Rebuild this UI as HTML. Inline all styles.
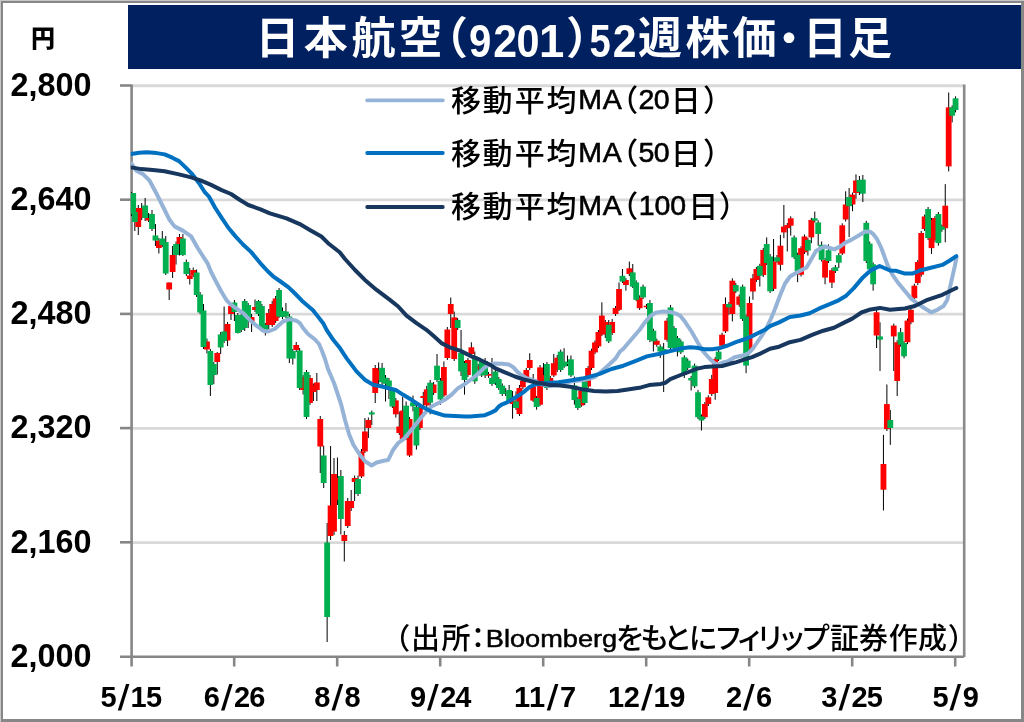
<!DOCTYPE html><html><head><meta charset="utf-8"><title>日本航空（9201）52週株価・日足</title><style>
html,body{margin:0;padding:0;background:#fff;}body{width:1024px;height:722px;overflow:hidden;position:relative;}
svg{position:absolute;left:0;top:0;display:block;will-change:transform;}
</style></head><body>
<svg width="1024" height="722" viewBox="0 0 1024 722">
<rect x="0" y="0" width="1024" height="722" fill="#fff"/>
<rect x="0" y="0" width="1024" height="1" fill="#c6c6c6"/><rect x="0" y="0" width="1" height="722" fill="#c6c6c6"/>
<rect x="1" y="1" width="1023" height="2" fill="#878787"/><rect x="1" y="1" width="2" height="721" fill="#878787"/>
<rect x="1021" y="1" width="3" height="721" fill="#878787"/><rect x="1" y="719" width="1023" height="3" fill="#878787"/>
<rect x="128" y="5" width="893" height="64" fill="#002060"/>
<line x1="131" y1="85.75" x2="963.5" y2="85.75" stroke="#d9d9d9" stroke-width="2.8"/>
<line x1="131" y1="199.95" x2="963.5" y2="199.95" stroke="#d9d9d9" stroke-width="2.8"/>
<line x1="131" y1="314.15" x2="963.5" y2="314.15" stroke="#d9d9d9" stroke-width="2.8"/>
<line x1="131" y1="428.35" x2="963.5" y2="428.35" stroke="#d9d9d9" stroke-width="2.8"/>
<line x1="131" y1="542.55" x2="963.5" y2="542.55" stroke="#d9d9d9" stroke-width="2.8"/>
<line x1="964.2" y1="84.5" x2="964.2" y2="657" stroke="#8a8a8a" stroke-width="2.6"/>
<line x1="131.6" y1="84.5" x2="131.6" y2="666.5" stroke="#868686" stroke-width="2.6"/>
<line x1="120" y1="656.7" x2="964" y2="656.7" stroke="#868686" stroke-width="2.6"/>
<line x1="120" y1="85.50" x2="131" y2="85.50" stroke="#868686" stroke-width="2.6"/>
<line x1="120" y1="199.70" x2="131" y2="199.70" stroke="#868686" stroke-width="2.6"/>
<line x1="120" y1="313.90" x2="131" y2="313.90" stroke="#868686" stroke-width="2.6"/>
<line x1="120" y1="428.10" x2="131" y2="428.10" stroke="#868686" stroke-width="2.6"/>
<line x1="120" y1="542.30" x2="131" y2="542.30" stroke="#868686" stroke-width="2.6"/>
<line x1="234.20" y1="656" x2="234.20" y2="666.5" stroke="#868686" stroke-width="2.6"/>
<line x1="337.20" y1="656" x2="337.20" y2="666.5" stroke="#868686" stroke-width="2.6"/>
<line x1="440.20" y1="656" x2="440.20" y2="666.5" stroke="#868686" stroke-width="2.6"/>
<line x1="543.20" y1="656" x2="543.20" y2="666.5" stroke="#868686" stroke-width="2.6"/>
<line x1="646.20" y1="656" x2="646.20" y2="666.5" stroke="#868686" stroke-width="2.6"/>
<line x1="749.20" y1="656" x2="749.20" y2="666.5" stroke="#868686" stroke-width="2.6"/>
<line x1="852.20" y1="656" x2="852.20" y2="666.5" stroke="#868686" stroke-width="2.6"/>
<line x1="955.20" y1="656" x2="955.20" y2="666.5" stroke="#868686" stroke-width="2.6"/>
<defs><clipPath id="pc"><rect x="130.6" y="84" width="833" height="573"/></clipPath></defs>
<g clip-path="url(#pc)">
<g stroke="#000" stroke-width="1">
<line x1="131.40" y1="192" x2="131.40" y2="216"/>
<line x1="134.83" y1="210" x2="134.83" y2="231"/>
<line x1="138.27" y1="205" x2="138.27" y2="235"/>
<line x1="141.70" y1="203" x2="141.70" y2="220"/>
<line x1="145.14" y1="198" x2="145.14" y2="221"/>
<line x1="148.57" y1="213" x2="148.57" y2="222"/>
<line x1="152.00" y1="210" x2="152.00" y2="231"/>
<line x1="155.44" y1="224" x2="155.44" y2="246"/>
<line x1="158.87" y1="238" x2="158.87" y2="253.5"/>
<line x1="162.31" y1="231" x2="162.31" y2="247"/>
<line x1="165.74" y1="236" x2="165.74" y2="275"/>
<line x1="169.17" y1="282.5" x2="169.17" y2="300"/>
<line x1="172.61" y1="246" x2="172.61" y2="278"/>
<line x1="176.04" y1="241.5" x2="176.04" y2="264.5"/>
<line x1="179.48" y1="234" x2="179.48" y2="255.5"/>
<line x1="182.91" y1="234" x2="182.91" y2="256"/>
<line x1="186.34" y1="259.5" x2="186.34" y2="276"/>
<line x1="189.78" y1="268" x2="189.78" y2="284.5"/>
<line x1="193.21" y1="267.5" x2="193.21" y2="277"/>
<line x1="196.65" y1="269.5" x2="196.65" y2="297"/>
<line x1="200.08" y1="292" x2="200.08" y2="314"/>
<line x1="203.51" y1="304" x2="203.51" y2="349"/>
<line x1="206.95" y1="338.5" x2="206.95" y2="353.5"/>
<line x1="210.38" y1="349" x2="210.38" y2="396"/>
<line x1="213.82" y1="362" x2="213.82" y2="384"/>
<line x1="217.25" y1="352" x2="217.25" y2="374.5"/>
<line x1="220.68" y1="332" x2="220.68" y2="354"/>
<line x1="224.12" y1="306.5" x2="224.12" y2="343"/>
<line x1="227.55" y1="322" x2="227.55" y2="346"/>
<line x1="230.99" y1="304" x2="230.99" y2="320"/>
<line x1="234.42" y1="300" x2="234.42" y2="321"/>
<line x1="237.85" y1="313" x2="237.85" y2="333.5"/>
<line x1="241.29" y1="313" x2="241.29" y2="332"/>
<line x1="244.72" y1="299" x2="244.72" y2="331"/>
<line x1="248.16" y1="303" x2="248.16" y2="328"/>
<line x1="251.59" y1="314" x2="251.59" y2="332"/>
<line x1="255.02" y1="299.5" x2="255.02" y2="312"/>
<line x1="258.46" y1="300" x2="258.46" y2="316"/>
<line x1="261.89" y1="304" x2="261.89" y2="332"/>
<line x1="265.33" y1="323" x2="265.33" y2="335.5"/>
<line x1="268.76" y1="309" x2="268.76" y2="329"/>
<line x1="272.19" y1="301" x2="272.19" y2="327"/>
<line x1="275.63" y1="296" x2="275.63" y2="323"/>
<line x1="279.06" y1="288" x2="279.06" y2="318"/>
<line x1="282.50" y1="307.5" x2="282.50" y2="319"/>
<line x1="285.93" y1="303" x2="285.93" y2="318"/>
<line x1="289.36" y1="314" x2="289.36" y2="363"/>
<line x1="292.80" y1="349" x2="292.80" y2="364.5"/>
<line x1="296.23" y1="342" x2="296.23" y2="352"/>
<line x1="299.67" y1="348" x2="299.67" y2="390"/>
<line x1="303.10" y1="375" x2="303.10" y2="394.5"/>
<line x1="306.53" y1="370" x2="306.53" y2="419"/>
<line x1="309.97" y1="375" x2="309.97" y2="405"/>
<line x1="313.40" y1="383.5" x2="313.40" y2="401"/>
<line x1="316.84" y1="373" x2="316.84" y2="401"/>
<line x1="320.27" y1="416" x2="320.27" y2="473"/>
<line x1="323.70" y1="445.7" x2="323.70" y2="488"/>
<line x1="327.14" y1="523" x2="327.14" y2="642"/>
<line x1="330.57" y1="446" x2="330.57" y2="540"/>
<line x1="334.01" y1="458" x2="334.01" y2="535"/>
<line x1="337.44" y1="457.5" x2="337.44" y2="505"/>
<line x1="340.87" y1="470" x2="340.87" y2="534.5"/>
<line x1="344.31" y1="531" x2="344.31" y2="561.5"/>
<line x1="347.74" y1="498" x2="347.74" y2="528"/>
<line x1="351.18" y1="490" x2="351.18" y2="511"/>
<line x1="354.61" y1="475.6" x2="354.61" y2="501"/>
<line x1="358.04" y1="475.6" x2="358.04" y2="496"/>
<line x1="361.48" y1="449" x2="361.48" y2="478"/>
<line x1="364.91" y1="418" x2="364.91" y2="453"/>
<line x1="368.35" y1="417.5" x2="368.35" y2="438"/>
<line x1="371.78" y1="410.6" x2="371.78" y2="425"/>
<line x1="375.21" y1="365" x2="375.21" y2="403"/>
<line x1="378.65" y1="362.5" x2="378.65" y2="387"/>
<line x1="382.08" y1="363" x2="382.08" y2="385"/>
<line x1="385.52" y1="375" x2="385.52" y2="401.5"/>
<line x1="388.95" y1="378" x2="388.95" y2="399"/>
<line x1="392.38" y1="388" x2="392.38" y2="408"/>
<line x1="395.82" y1="398" x2="395.82" y2="417.6"/>
<line x1="399.25" y1="411.5" x2="399.25" y2="435"/>
<line x1="402.69" y1="397" x2="402.69" y2="442"/>
<line x1="406.12" y1="401.5" x2="406.12" y2="440"/>
<line x1="409.55" y1="417" x2="409.55" y2="457"/>
<line x1="412.99" y1="395.6" x2="412.99" y2="411.4"/>
<line x1="416.42" y1="405" x2="416.42" y2="449.6"/>
<line x1="419.86" y1="406" x2="419.86" y2="430"/>
<line x1="423.29" y1="392" x2="423.29" y2="407"/>
<line x1="426.72" y1="386" x2="426.72" y2="407"/>
<line x1="430.16" y1="380" x2="430.16" y2="414.3"/>
<line x1="433.59" y1="382" x2="433.59" y2="395"/>
<line x1="437.03" y1="354" x2="437.03" y2="382"/>
<line x1="440.46" y1="378" x2="440.46" y2="404.7"/>
<line x1="443.89" y1="361.5" x2="443.89" y2="397"/>
<line x1="447.33" y1="327" x2="447.33" y2="360"/>
<line x1="450.76" y1="297.5" x2="450.76" y2="328"/>
<line x1="454.20" y1="311.6" x2="454.20" y2="361"/>
<line x1="457.63" y1="318" x2="457.63" y2="330"/>
<line x1="461.06" y1="330" x2="461.06" y2="376"/>
<line x1="464.50" y1="361" x2="464.50" y2="394.6"/>
<line x1="467.93" y1="358" x2="467.93" y2="377"/>
<line x1="471.37" y1="342.3" x2="471.37" y2="356"/>
<line x1="474.80" y1="351.5" x2="474.80" y2="383.8"/>
<line x1="478.23" y1="364" x2="478.23" y2="371"/>
<line x1="481.67" y1="359" x2="481.67" y2="377"/>
<line x1="485.10" y1="358" x2="485.10" y2="378"/>
<line x1="488.54" y1="372" x2="488.54" y2="378"/>
<line x1="491.97" y1="358" x2="491.97" y2="386"/>
<line x1="495.40" y1="369" x2="495.40" y2="385"/>
<line x1="498.84" y1="377" x2="498.84" y2="390"/>
<line x1="502.27" y1="383.5" x2="502.27" y2="396"/>
<line x1="505.71" y1="388" x2="505.71" y2="396"/>
<line x1="509.14" y1="385" x2="509.14" y2="403"/>
<line x1="512.57" y1="391" x2="512.57" y2="418.7"/>
<line x1="516.01" y1="391.4" x2="516.01" y2="410"/>
<line x1="519.44" y1="385" x2="519.44" y2="416"/>
<line x1="522.88" y1="378" x2="522.88" y2="389"/>
<line x1="526.31" y1="368" x2="526.31" y2="382"/>
<line x1="529.74" y1="353.2" x2="529.74" y2="370"/>
<line x1="533.18" y1="374" x2="533.18" y2="402"/>
<line x1="536.61" y1="396" x2="536.61" y2="409.7"/>
<line x1="540.05" y1="365" x2="540.05" y2="406"/>
<line x1="543.48" y1="363" x2="543.48" y2="387"/>
<line x1="546.91" y1="362" x2="546.91" y2="390"/>
<line x1="550.35" y1="376" x2="550.35" y2="383"/>
<line x1="553.78" y1="354" x2="553.78" y2="377"/>
<line x1="557.22" y1="355" x2="557.22" y2="372"/>
<line x1="560.65" y1="349.6" x2="560.65" y2="372"/>
<line x1="564.08" y1="348.2" x2="564.08" y2="368"/>
<line x1="567.52" y1="355.5" x2="567.52" y2="366"/>
<line x1="570.95" y1="355.5" x2="570.95" y2="377"/>
<line x1="574.39" y1="376.5" x2="574.39" y2="404.7"/>
<line x1="577.82" y1="397" x2="577.82" y2="410"/>
<line x1="581.25" y1="388" x2="581.25" y2="407"/>
<line x1="584.69" y1="379.5" x2="584.69" y2="405"/>
<line x1="588.12" y1="366" x2="588.12" y2="388"/>
<line x1="591.56" y1="348.7" x2="591.56" y2="370"/>
<line x1="594.99" y1="340.4" x2="594.99" y2="354"/>
<line x1="598.42" y1="330" x2="598.42" y2="348"/>
<line x1="601.86" y1="302.3" x2="601.86" y2="336"/>
<line x1="605.29" y1="320" x2="605.29" y2="338"/>
<line x1="608.73" y1="320" x2="608.73" y2="343"/>
<line x1="612.16" y1="319" x2="612.16" y2="335"/>
<line x1="615.59" y1="306" x2="615.59" y2="316"/>
<line x1="619.03" y1="282.4" x2="619.03" y2="311"/>
<line x1="622.46" y1="269" x2="622.46" y2="283"/>
<line x1="625.90" y1="278" x2="625.90" y2="290.7"/>
<line x1="629.33" y1="261.6" x2="629.33" y2="276"/>
<line x1="632.76" y1="264" x2="632.76" y2="288"/>
<line x1="636.20" y1="280.4" x2="636.20" y2="301"/>
<line x1="639.63" y1="295.4" x2="639.63" y2="310"/>
<line x1="643.07" y1="284.6" x2="643.07" y2="299"/>
<line x1="646.50" y1="304" x2="646.50" y2="309"/>
<line x1="649.93" y1="300" x2="649.93" y2="342"/>
<line x1="653.37" y1="328.7" x2="653.37" y2="351.5"/>
<line x1="656.80" y1="338.7" x2="656.80" y2="346.8"/>
<line x1="660.24" y1="344.5" x2="660.24" y2="358"/>
<line x1="663.67" y1="343" x2="663.67" y2="392"/>
<line x1="667.10" y1="318" x2="667.10" y2="341.8"/>
<line x1="670.54" y1="305" x2="670.54" y2="350"/>
<line x1="673.97" y1="326" x2="673.97" y2="350"/>
<line x1="677.41" y1="336" x2="677.41" y2="356.4"/>
<line x1="680.84" y1="339.5" x2="680.84" y2="354"/>
<line x1="684.27" y1="355.3" x2="684.27" y2="378"/>
<line x1="687.71" y1="358.6" x2="687.71" y2="370"/>
<line x1="691.14" y1="376" x2="691.14" y2="390.5"/>
<line x1="694.58" y1="363.6" x2="694.58" y2="388"/>
<line x1="698.01" y1="390" x2="698.01" y2="419"/>
<line x1="701.44" y1="414.4" x2="701.44" y2="430.5"/>
<line x1="704.88" y1="402" x2="704.88" y2="419"/>
<line x1="708.31" y1="395.3" x2="708.31" y2="406"/>
<line x1="711.75" y1="374.9" x2="711.75" y2="396"/>
<line x1="715.18" y1="357" x2="715.18" y2="399.8"/>
<line x1="718.61" y1="349.6" x2="718.61" y2="361"/>
<line x1="722.05" y1="332.7" x2="722.05" y2="347"/>
<line x1="725.48" y1="297.4" x2="725.48" y2="333"/>
<line x1="728.92" y1="302" x2="728.92" y2="314.8"/>
<line x1="732.35" y1="278.3" x2="732.35" y2="321.4"/>
<line x1="735.78" y1="283" x2="735.78" y2="293"/>
<line x1="739.22" y1="294.5" x2="739.22" y2="306.8"/>
<line x1="742.65" y1="284.6" x2="742.65" y2="321"/>
<line x1="746.09" y1="314.5" x2="746.09" y2="373.2"/>
<line x1="749.52" y1="296.5" x2="749.52" y2="353"/>
<line x1="752.95" y1="274" x2="752.95" y2="299.8"/>
<line x1="756.39" y1="267" x2="756.39" y2="282"/>
<line x1="759.82" y1="263.8" x2="759.82" y2="286.6"/>
<line x1="763.26" y1="248" x2="763.26" y2="277"/>
<line x1="766.69" y1="237.4" x2="766.69" y2="265"/>
<line x1="770.12" y1="254" x2="770.12" y2="293"/>
<line x1="773.56" y1="239" x2="773.56" y2="291"/>
<line x1="776.99" y1="255" x2="776.99" y2="263"/>
<line x1="780.43" y1="234.9" x2="780.43" y2="270.6"/>
<line x1="783.86" y1="205" x2="783.86" y2="238.2"/>
<line x1="787.29" y1="223" x2="787.29" y2="251.5"/>
<line x1="790.73" y1="216.3" x2="790.73" y2="235.7"/>
<line x1="794.16" y1="235.4" x2="794.16" y2="259"/>
<line x1="797.60" y1="252.8" x2="797.60" y2="282.2"/>
<line x1="801.03" y1="246.2" x2="801.03" y2="276.5"/>
<line x1="804.46" y1="234.5" x2="804.46" y2="254"/>
<line x1="807.90" y1="237.9" x2="807.90" y2="255.6"/>
<line x1="811.33" y1="217.9" x2="811.33" y2="243.2"/>
<line x1="814.77" y1="211.6" x2="814.77" y2="222.5"/>
<line x1="818.20" y1="220.4" x2="818.20" y2="245.7"/>
<line x1="821.63" y1="241.5" x2="821.63" y2="261.5"/>
<line x1="825.07" y1="258" x2="825.07" y2="284.3"/>
<line x1="828.50" y1="244.4" x2="828.50" y2="263"/>
<line x1="831.94" y1="268" x2="831.94" y2="288"/>
<line x1="835.37" y1="265" x2="835.37" y2="273"/>
<line x1="838.80" y1="253" x2="838.80" y2="268"/>
<line x1="842.24" y1="223.3" x2="842.24" y2="255"/>
<line x1="845.67" y1="191.3" x2="845.67" y2="221.5"/>
<line x1="849.11" y1="188" x2="849.11" y2="237"/>
<line x1="852.54" y1="192.6" x2="852.54" y2="211.2"/>
<line x1="855.97" y1="174.3" x2="855.97" y2="198.7"/>
<line x1="859.41" y1="176" x2="859.41" y2="195"/>
<line x1="862.84" y1="175" x2="862.84" y2="202"/>
<line x1="866.28" y1="220.8" x2="866.28" y2="263"/>
<line x1="869.71" y1="241.6" x2="869.71" y2="271"/>
<line x1="873.14" y1="262.3" x2="873.14" y2="290.7"/>
<line x1="876.58" y1="310" x2="876.58" y2="348"/>
<line x1="880.01" y1="322.3" x2="880.01" y2="371"/>
<line x1="883.45" y1="434.9" x2="883.45" y2="510.5"/>
<line x1="886.88" y1="384.5" x2="886.88" y2="431"/>
<line x1="890.31" y1="410" x2="890.31" y2="444.9"/>
<line x1="893.75" y1="323.6" x2="893.75" y2="371"/>
<line x1="897.18" y1="340.2" x2="897.18" y2="396"/>
<line x1="900.62" y1="328" x2="900.62" y2="346.7"/>
<line x1="904.05" y1="341" x2="904.05" y2="358.3"/>
<line x1="907.48" y1="318.6" x2="907.48" y2="344.2"/>
<line x1="910.92" y1="307.8" x2="910.92" y2="324.3"/>
<line x1="914.35" y1="283.7" x2="914.35" y2="300.2"/>
<line x1="917.79" y1="260" x2="917.79" y2="285"/>
<line x1="921.22" y1="231" x2="921.22" y2="276.7"/>
<line x1="924.65" y1="214.5" x2="924.65" y2="231"/>
<line x1="928.09" y1="207" x2="928.09" y2="240.1"/>
<line x1="931.52" y1="217.9" x2="931.52" y2="254"/>
<line x1="934.96" y1="216" x2="934.96" y2="242"/>
<line x1="938.39" y1="212" x2="938.39" y2="245.6"/>
<line x1="941.82" y1="224.5" x2="941.82" y2="231.8"/>
<line x1="945.26" y1="184.1" x2="945.26" y2="242.3"/>
<line x1="948.69" y1="92.5" x2="948.69" y2="171.4"/>
<line x1="952.13" y1="105.4" x2="952.13" y2="122.4"/>
<line x1="955.56" y1="96.3" x2="955.56" y2="112.4"/>
</g>
<rect x="135.37" y="208" width="5.8" height="19.00" fill="#ff0000"/>
<rect x="138.80" y="208" width="5.8" height="10.00" fill="#ff0000"/>
<rect x="145.67" y="218" width="5.8" height="2.50" fill="#ff0000"/>
<rect x="155.97" y="240.5" width="5.8" height="7.50" fill="#ff0000"/>
<rect x="166.27" y="282.5" width="5.8" height="7.00" fill="#ff0000"/>
<rect x="169.71" y="255" width="5.8" height="17.00" fill="#ff0000"/>
<rect x="176.58" y="237" width="5.8" height="7.00" fill="#ff0000"/>
<rect x="186.88" y="275.5" width="5.8" height="3.50" fill="#ff0000"/>
<rect x="190.31" y="270" width="5.8" height="5.50" fill="#ff0000"/>
<rect x="204.05" y="341.5" width="5.8" height="8.00" fill="#ff0000"/>
<rect x="214.35" y="353" width="5.8" height="9.00" fill="#ff0000"/>
<rect x="224.65" y="324" width="5.8" height="16.50" fill="#ff0000"/>
<rect x="228.09" y="306" width="5.8" height="8.00" fill="#ff0000"/>
<rect x="248.69" y="317" width="5.8" height="5.00" fill="#ff0000"/>
<rect x="252.12" y="307" width="5.8" height="3.00" fill="#ff0000"/>
<rect x="265.86" y="313" width="5.8" height="12.00" fill="#ff0000"/>
<rect x="269.29" y="304" width="5.8" height="21.00" fill="#ff0000"/>
<rect x="272.73" y="298.5" width="5.8" height="22.50" fill="#ff0000"/>
<rect x="293.33" y="345" width="5.8" height="5.00" fill="#ff0000"/>
<rect x="300.20" y="377" width="5.8" height="13.00" fill="#ff0000"/>
<rect x="307.07" y="378" width="5.8" height="25.00" fill="#ff0000"/>
<rect x="310.50" y="385" width="5.8" height="7.00" fill="#ff0000"/>
<rect x="313.94" y="382.5" width="5.8" height="7.50" fill="#ff0000"/>
<rect x="317.37" y="419" width="5.8" height="27.50" fill="#ff0000"/>
<rect x="327.67" y="505.5" width="5.8" height="30.50" fill="#ff0000"/>
<rect x="331.11" y="474" width="5.8" height="57.60" fill="#ff0000"/>
<rect x="334.54" y="478" width="5.8" height="22.00" fill="#ff0000"/>
<rect x="341.41" y="535" width="5.8" height="6.00" fill="#ff0000"/>
<rect x="344.84" y="501" width="5.8" height="25.00" fill="#ff0000"/>
<rect x="348.28" y="501" width="5.8" height="7.00" fill="#ff0000"/>
<rect x="351.71" y="478" width="5.8" height="4.00" fill="#ff0000"/>
<rect x="358.58" y="451.5" width="5.8" height="25.00" fill="#ff0000"/>
<rect x="362.01" y="431.5" width="5.8" height="20.00" fill="#ff0000"/>
<rect x="365.45" y="420" width="5.8" height="8.00" fill="#ff0000"/>
<rect x="372.31" y="368" width="5.8" height="25.00" fill="#ff0000"/>
<rect x="375.75" y="370" width="5.8" height="10.00" fill="#ff0000"/>
<rect x="392.92" y="400.4" width="5.8" height="13.90" fill="#ff0000"/>
<rect x="396.35" y="426.5" width="5.8" height="6.50" fill="#ff0000"/>
<rect x="399.79" y="410.6" width="5.8" height="29.40" fill="#ff0000"/>
<rect x="406.65" y="419" width="5.8" height="36.50" fill="#ff0000"/>
<rect x="416.96" y="408" width="5.8" height="20.00" fill="#ff0000"/>
<rect x="420.39" y="396" width="5.8" height="2.00" fill="#ff0000"/>
<rect x="423.82" y="389.4" width="5.8" height="16.00" fill="#ff0000"/>
<rect x="430.69" y="384.5" width="5.8" height="8.50" fill="#ff0000"/>
<rect x="440.99" y="367" width="5.8" height="28.50" fill="#ff0000"/>
<rect x="444.43" y="329.5" width="5.8" height="28.50" fill="#ff0000"/>
<rect x="447.86" y="304" width="5.8" height="10.00" fill="#ff0000"/>
<rect x="451.30" y="317.4" width="5.8" height="41.60" fill="#ff0000"/>
<rect x="465.03" y="360" width="5.8" height="15.00" fill="#ff0000"/>
<rect x="468.47" y="347.3" width="5.8" height="6.70" fill="#ff0000"/>
<rect x="475.33" y="366.4" width="5.8" height="2.60" fill="#ff0000"/>
<rect x="485.64" y="374" width="5.8" height="1.70" fill="#ff0000"/>
<rect x="509.67" y="400.5" width="5.8" height="3.50" fill="#ff0000"/>
<rect x="516.54" y="388" width="5.8" height="26.00" fill="#ff0000"/>
<rect x="519.98" y="380.6" width="5.8" height="6.70" fill="#ff0000"/>
<rect x="523.41" y="370" width="5.8" height="10.00" fill="#ff0000"/>
<rect x="526.84" y="360" width="5.8" height="8.00" fill="#ff0000"/>
<rect x="530.28" y="386.5" width="5.8" height="14.10" fill="#ff0000"/>
<rect x="537.15" y="367.4" width="5.8" height="37.30" fill="#ff0000"/>
<rect x="540.58" y="375" width="5.8" height="10.00" fill="#ff0000"/>
<rect x="547.45" y="378" width="5.8" height="3.00" fill="#ff0000"/>
<rect x="550.88" y="363.2" width="5.8" height="12.20" fill="#ff0000"/>
<rect x="554.32" y="357.7" width="5.8" height="12.30" fill="#ff0000"/>
<rect x="578.35" y="390.6" width="5.8" height="14.90" fill="#ff0000"/>
<rect x="585.22" y="368" width="5.8" height="18.50" fill="#ff0000"/>
<rect x="588.66" y="350.7" width="5.8" height="17.30" fill="#ff0000"/>
<rect x="592.09" y="342.4" width="5.8" height="10.00" fill="#ff0000"/>
<rect x="595.52" y="332" width="5.8" height="14.40" fill="#ff0000"/>
<rect x="598.96" y="315.6" width="5.8" height="19.10" fill="#ff0000"/>
<rect x="602.39" y="322" width="5.8" height="12.00" fill="#ff0000"/>
<rect x="609.26" y="322" width="5.8" height="11.00" fill="#ff0000"/>
<rect x="612.69" y="308" width="5.8" height="6.00" fill="#ff0000"/>
<rect x="616.13" y="289" width="5.8" height="20.80" fill="#ff0000"/>
<rect x="623.00" y="280" width="5.8" height="5.00" fill="#ff0000"/>
<rect x="626.43" y="268.3" width="5.8" height="5.70" fill="#ff0000"/>
<rect x="636.73" y="297.4" width="5.8" height="10.80" fill="#ff0000"/>
<rect x="643.60" y="305.7" width="5.8" height="1.60" fill="#ff0000"/>
<rect x="653.90" y="340.7" width="5.8" height="4.10" fill="#ff0000"/>
<rect x="664.20" y="320.7" width="5.8" height="19.10" fill="#ff0000"/>
<rect x="701.98" y="404" width="5.8" height="13.20" fill="#ff0000"/>
<rect x="705.41" y="397.3" width="5.8" height="6.70" fill="#ff0000"/>
<rect x="708.85" y="379" width="5.8" height="15.00" fill="#ff0000"/>
<rect x="712.28" y="359" width="5.8" height="34.00" fill="#ff0000"/>
<rect x="719.15" y="334.7" width="5.8" height="11.10" fill="#ff0000"/>
<rect x="722.58" y="304" width="5.8" height="27.40" fill="#ff0000"/>
<rect x="729.45" y="280.7" width="5.8" height="33.30" fill="#ff0000"/>
<rect x="736.32" y="296.5" width="5.8" height="8.30" fill="#ff0000"/>
<rect x="746.62" y="303" width="5.8" height="48.30" fill="#ff0000"/>
<rect x="750.05" y="278.3" width="5.8" height="13.20" fill="#ff0000"/>
<rect x="753.49" y="269" width="5.8" height="11.00" fill="#ff0000"/>
<rect x="760.36" y="250" width="5.8" height="25.00" fill="#ff0000"/>
<rect x="770.66" y="261.4" width="5.8" height="27.50" fill="#ff0000"/>
<rect x="777.53" y="245.7" width="5.8" height="19.10" fill="#ff0000"/>
<rect x="780.96" y="226.6" width="5.8" height="5.80" fill="#ff0000"/>
<rect x="784.39" y="225" width="5.8" height="3.20" fill="#ff0000"/>
<rect x="787.83" y="218.3" width="5.8" height="7.40" fill="#ff0000"/>
<rect x="798.13" y="248.2" width="5.8" height="26.50" fill="#ff0000"/>
<rect x="801.56" y="236.5" width="5.8" height="15.80" fill="#ff0000"/>
<rect x="808.43" y="219.9" width="5.8" height="17.50" fill="#ff0000"/>
<rect x="822.17" y="260.2" width="5.8" height="17.40" fill="#ff0000"/>
<rect x="829.04" y="270.2" width="5.8" height="12.40" fill="#ff0000"/>
<rect x="839.34" y="225.3" width="5.8" height="28.20" fill="#ff0000"/>
<rect x="842.77" y="204.5" width="5.8" height="15.00" fill="#ff0000"/>
<rect x="849.64" y="194.6" width="5.8" height="9.90" fill="#ff0000"/>
<rect x="853.07" y="180.5" width="5.8" height="12.50" fill="#ff0000"/>
<rect x="873.68" y="312.3" width="5.8" height="23.20" fill="#ff0000"/>
<rect x="880.55" y="464" width="5.8" height="25.70" fill="#ff0000"/>
<rect x="883.98" y="404.1" width="5.8" height="24.90" fill="#ff0000"/>
<rect x="890.85" y="325.6" width="5.8" height="10.80" fill="#ff0000"/>
<rect x="894.28" y="342.2" width="5.8" height="38.80" fill="#ff0000"/>
<rect x="904.58" y="320.6" width="5.8" height="21.60" fill="#ff0000"/>
<rect x="908.02" y="309.8" width="5.8" height="12.50" fill="#ff0000"/>
<rect x="911.45" y="285.7" width="5.8" height="12.50" fill="#ff0000"/>
<rect x="914.89" y="262" width="5.8" height="21.00" fill="#ff0000"/>
<rect x="918.32" y="233" width="5.8" height="41.70" fill="#ff0000"/>
<rect x="921.75" y="216.5" width="5.8" height="12.50" fill="#ff0000"/>
<rect x="928.62" y="219.9" width="5.8" height="28.20" fill="#ff0000"/>
<rect x="932.06" y="218" width="5.8" height="22.00" fill="#ff0000"/>
<rect x="942.36" y="205.7" width="5.8" height="22.50" fill="#ff0000"/>
<rect x="945.79" y="107.4" width="5.8" height="59.00" fill="#ff0000"/>
<rect x="130.70" y="193" width="5.4" height="21.00" fill="#00b050"/>
<rect x="131.93" y="212" width="5.8" height="10.00" fill="#00b050"/>
<rect x="142.24" y="205.5" width="5.8" height="12.50" fill="#00b050"/>
<rect x="149.10" y="214" width="5.8" height="15.00" fill="#00b050"/>
<rect x="152.54" y="235.5" width="5.8" height="5.00" fill="#00b050"/>
<rect x="159.41" y="238.5" width="5.8" height="6.50" fill="#00b050"/>
<rect x="162.84" y="242" width="5.8" height="31.50" fill="#00b050"/>
<rect x="173.14" y="244" width="5.8" height="11.00" fill="#00b050"/>
<rect x="180.01" y="238.5" width="5.8" height="16.50" fill="#00b050"/>
<rect x="183.44" y="262" width="5.8" height="12.00" fill="#00b050"/>
<rect x="193.75" y="272.5" width="5.8" height="22.50" fill="#00b050"/>
<rect x="197.18" y="294.5" width="5.8" height="18.00" fill="#00b050"/>
<rect x="200.61" y="310.5" width="5.8" height="36.50" fill="#00b050"/>
<rect x="207.48" y="351" width="5.8" height="34.00" fill="#00b050"/>
<rect x="210.92" y="364" width="5.8" height="11.00" fill="#00b050"/>
<rect x="217.78" y="334.5" width="5.8" height="13.00" fill="#00b050"/>
<rect x="221.22" y="331.5" width="5.8" height="9.50" fill="#00b050"/>
<rect x="231.52" y="302.5" width="5.8" height="9.50" fill="#00b050"/>
<rect x="234.95" y="315" width="5.8" height="18.00" fill="#00b050"/>
<rect x="238.39" y="315" width="5.8" height="15.00" fill="#00b050"/>
<rect x="241.82" y="301" width="5.8" height="27.00" fill="#00b050"/>
<rect x="245.26" y="305" width="5.8" height="17.00" fill="#00b050"/>
<rect x="255.56" y="301" width="5.8" height="13.00" fill="#00b050"/>
<rect x="258.99" y="306" width="5.8" height="24.00" fill="#00b050"/>
<rect x="262.43" y="325" width="5.8" height="5.00" fill="#00b050"/>
<rect x="276.16" y="290" width="5.8" height="26.50" fill="#00b050"/>
<rect x="279.60" y="311" width="5.8" height="6.00" fill="#00b050"/>
<rect x="283.03" y="311.5" width="5.8" height="4.50" fill="#00b050"/>
<rect x="286.46" y="316.5" width="5.8" height="42.00" fill="#00b050"/>
<rect x="289.90" y="351" width="5.8" height="7.50" fill="#00b050"/>
<rect x="296.77" y="350.5" width="5.8" height="37.50" fill="#00b050"/>
<rect x="303.63" y="372" width="5.8" height="45.00" fill="#00b050"/>
<rect x="320.80" y="455.5" width="5.8" height="27.50" fill="#00b050"/>
<rect x="324.24" y="542.5" width="5.8" height="74.50" fill="#00b050"/>
<rect x="337.97" y="476" width="5.8" height="43.00" fill="#00b050"/>
<rect x="355.14" y="479" width="5.8" height="15.00" fill="#00b050"/>
<rect x="368.88" y="412.3" width="5.8" height="2.20" fill="#00b050"/>
<rect x="379.18" y="367.8" width="5.8" height="14.40" fill="#00b050"/>
<rect x="382.62" y="377.7" width="5.8" height="6.10" fill="#00b050"/>
<rect x="386.05" y="380.5" width="5.8" height="6.10" fill="#00b050"/>
<rect x="389.48" y="390" width="5.8" height="16.50" fill="#00b050"/>
<rect x="403.22" y="405.7" width="5.8" height="32.30" fill="#00b050"/>
<rect x="410.09" y="402.3" width="5.8" height="4.10" fill="#00b050"/>
<rect x="413.52" y="407" width="5.8" height="38.50" fill="#00b050"/>
<rect x="427.26" y="382.7" width="5.8" height="20.00" fill="#00b050"/>
<rect x="434.13" y="365.7" width="5.8" height="14.30" fill="#00b050"/>
<rect x="437.56" y="380.6" width="5.8" height="18.90" fill="#00b050"/>
<rect x="454.73" y="320" width="5.8" height="8.00" fill="#00b050"/>
<rect x="458.16" y="353" width="5.8" height="18.40" fill="#00b050"/>
<rect x="461.60" y="363" width="5.8" height="17.00" fill="#00b050"/>
<rect x="471.90" y="356.4" width="5.8" height="24.90" fill="#00b050"/>
<rect x="478.77" y="361.4" width="5.8" height="14.10" fill="#00b050"/>
<rect x="482.20" y="361" width="5.8" height="14.00" fill="#00b050"/>
<rect x="489.07" y="378" width="5.8" height="6.00" fill="#00b050"/>
<rect x="492.50" y="371.5" width="5.8" height="11.50" fill="#00b050"/>
<rect x="495.94" y="379" width="5.8" height="9.00" fill="#00b050"/>
<rect x="499.37" y="385.6" width="5.8" height="8.40" fill="#00b050"/>
<rect x="502.81" y="392" width="5.8" height="1.20" fill="#00b050"/>
<rect x="506.24" y="390" width="5.8" height="11.40" fill="#00b050"/>
<rect x="513.11" y="401.4" width="5.8" height="6.60" fill="#00b050"/>
<rect x="533.71" y="398" width="5.8" height="9.00" fill="#00b050"/>
<rect x="544.01" y="364" width="5.8" height="24.00" fill="#00b050"/>
<rect x="557.75" y="351.6" width="5.8" height="18.40" fill="#00b050"/>
<rect x="561.18" y="361.5" width="5.8" height="5.00" fill="#00b050"/>
<rect x="564.62" y="362" width="5.8" height="2.00" fill="#00b050"/>
<rect x="568.05" y="359.3" width="5.8" height="16.10" fill="#00b050"/>
<rect x="571.49" y="385.4" width="5.8" height="14.60" fill="#00b050"/>
<rect x="574.92" y="399" width="5.8" height="9.00" fill="#00b050"/>
<rect x="581.79" y="381.5" width="5.8" height="21.50" fill="#00b050"/>
<rect x="605.83" y="324.8" width="5.8" height="16.60" fill="#00b050"/>
<rect x="619.56" y="275.8" width="5.8" height="5.80" fill="#00b050"/>
<rect x="629.86" y="272.4" width="5.8" height="14.20" fill="#00b050"/>
<rect x="633.30" y="282.4" width="5.8" height="17.40" fill="#00b050"/>
<rect x="640.17" y="286.6" width="5.8" height="10.80" fill="#00b050"/>
<rect x="647.03" y="303" width="5.8" height="37.00" fill="#00b050"/>
<rect x="650.47" y="330.7" width="5.8" height="10.70" fill="#00b050"/>
<rect x="657.34" y="346.5" width="5.8" height="5.00" fill="#00b050"/>
<rect x="660.77" y="349" width="5.8" height="3.00" fill="#00b050"/>
<rect x="667.64" y="307.4" width="5.8" height="40.60" fill="#00b050"/>
<rect x="671.07" y="328" width="5.8" height="20.00" fill="#00b050"/>
<rect x="674.51" y="338" width="5.8" height="12.00" fill="#00b050"/>
<rect x="677.94" y="341.5" width="5.8" height="10.80" fill="#00b050"/>
<rect x="681.37" y="357.3" width="5.8" height="17.40" fill="#00b050"/>
<rect x="684.81" y="360.6" width="5.8" height="7.40" fill="#00b050"/>
<rect x="688.24" y="378" width="5.8" height="2.50" fill="#00b050"/>
<rect x="691.68" y="365.6" width="5.8" height="20.70" fill="#00b050"/>
<rect x="695.11" y="392.3" width="5.8" height="24.90" fill="#00b050"/>
<rect x="698.54" y="416.4" width="5.8" height="4.10" fill="#00b050"/>
<rect x="715.71" y="351.6" width="5.8" height="7.90" fill="#00b050"/>
<rect x="726.02" y="304" width="5.8" height="3.30" fill="#00b050"/>
<rect x="732.88" y="285" width="5.8" height="6.50" fill="#00b050"/>
<rect x="739.75" y="286.6" width="5.8" height="32.40" fill="#00b050"/>
<rect x="743.19" y="316.5" width="5.8" height="49.10" fill="#00b050"/>
<rect x="756.92" y="265.8" width="5.8" height="10.00" fill="#00b050"/>
<rect x="763.79" y="244" width="5.8" height="19.00" fill="#00b050"/>
<rect x="767.22" y="256.5" width="5.8" height="34.80" fill="#00b050"/>
<rect x="774.09" y="257.3" width="5.8" height="4.10" fill="#00b050"/>
<rect x="791.26" y="237.4" width="5.8" height="19.90" fill="#00b050"/>
<rect x="794.70" y="254.8" width="5.8" height="16.60" fill="#00b050"/>
<rect x="805.00" y="239.9" width="5.8" height="10.70" fill="#00b050"/>
<rect x="811.87" y="218.3" width="5.8" height="2.40" fill="#00b050"/>
<rect x="815.30" y="222.4" width="5.8" height="11.60" fill="#00b050"/>
<rect x="818.73" y="244.8" width="5.8" height="15.00" fill="#00b050"/>
<rect x="825.60" y="250.2" width="5.8" height="10.80" fill="#00b050"/>
<rect x="832.47" y="267.2" width="5.8" height="3.80" fill="#00b050"/>
<rect x="835.90" y="255.2" width="5.8" height="7.50" fill="#00b050"/>
<rect x="846.21" y="197" width="5.8" height="9.20" fill="#00b050"/>
<rect x="856.51" y="180" width="5.8" height="12.00" fill="#00b050"/>
<rect x="859.94" y="179.6" width="5.8" height="14.10" fill="#00b050"/>
<rect x="863.38" y="222.8" width="5.8" height="38.20" fill="#00b050"/>
<rect x="866.81" y="243.6" width="5.8" height="25.70" fill="#00b050"/>
<rect x="870.24" y="264.3" width="5.8" height="20.00" fill="#00b050"/>
<rect x="877.11" y="336.4" width="5.8" height="3.30" fill="#00b050"/>
<rect x="887.41" y="420" width="5.8" height="8.00" fill="#00b050"/>
<rect x="897.72" y="332.2" width="5.8" height="12.50" fill="#00b050"/>
<rect x="901.15" y="343" width="5.8" height="13.30" fill="#00b050"/>
<rect x="925.19" y="209" width="5.8" height="29.10" fill="#00b050"/>
<rect x="935.49" y="214" width="5.8" height="29.10" fill="#00b050"/>
<rect x="938.92" y="226.5" width="5.8" height="3.30" fill="#00b050"/>
<rect x="949.23" y="107.4" width="5.8" height="8.30" fill="#00b050"/>
<rect x="952.66" y="98.3" width="5.8" height="11.70" fill="#00b050"/>
</g>
<defs><clipPath id="lc"><rect x="130.8" y="80" width="840" height="580"/></clipPath></defs>
<g clip-path="url(#lc)">
<polyline points="131.3,163.3 136.3,170.7 143,174.1 149.6,180.7 156.3,193.2 162.9,206.5 169.5,219.8 174.5,226.4 182.8,230.6 191.2,236.4 197.7,248 203.2,256.6 207.6,263.3 210.9,271.5 215.4,280.5 220.9,290.8 226.5,300.2 230,303.8 234.8,307.4 243.2,313.2 249.8,319.9 256.5,325.7 263.1,330.7 268.1,331.5 274.7,329 283,321.5 289.7,319.1 296.3,320.7 300,323.2 303,328 308,334 315,339.5 319,344 322,351 325,359 328,369 331,376 334,383 337,392 341,404 345,420 349,434 353.5,445 360,455 365,461.3 371.6,465.5 376.6,462.5 384.9,460.5 388.2,460 393.2,449.7 398.2,443 404.8,438.1 411.5,429.7 418.1,421.4 424.8,413.1 431.4,406.5 438.1,403.2 444.7,399.8 451.4,394.8 458,388.2 465,384 473,378 480,372.1 484.4,367.7 488.9,364.9 494.4,363.5 502.2,363.8 508.8,364.4 513.2,367.1 517.7,372.1 522.1,375.5 526.5,378.2 532.1,380 535.4,381 540,384 550,386 560,384.5 570.3,381.6 582,380.2 590,378.5 595.4,376.5 602,371 608.7,365 615.3,358.8 620,351.5 623.4,348.8 633.2,337.2 639.9,329.5 644.3,323.1 649.9,316.5 655.4,312.8 662,311.6 668.7,311.8 675.3,313.4 680,315.5 684.9,321.6 691.5,331.5 698.2,343.2 703.2,351.5 709,358 714.8,363.5 718,364.5 723.2,362.4 728,361.3 734.6,357.2 744,355.3 748.6,353.1 753,348.5 757.4,342 762,335.5 766.3,328.7 771,318.5 775.1,308.8 780,295.5 785,283.5 790,276.5 796,273 806.5,267.5 812,258 816,251 821,248 825,246.5 834.3,249.4 839.9,246.6 845.4,242.7 852.1,239.4 858.7,235.5 865.3,231.5 870,231.8 872.8,233.6 877,239 881.3,248 887.5,265 892.5,274.9 898.7,283.6 904.9,291.1 911.2,298.6 917.4,303.5 924.9,308.5 931.1,312.3 937.3,309.8 943.6,306 947.3,299.8 951.1,282.4 954.8,266.1 956.5,257.5" fill="none" stroke="#95b3d7" stroke-width="4.0" stroke-linejoin="round" stroke-linecap="round"/>
<polyline points="131.3,153.9 139.1,152.8 146.8,152.2 156.8,153.1 164.6,154.4 172.3,157.7 179,161.1 185.6,167.4 192.3,174.2 198.9,183 204.5,191.8 208.9,196.5 215,207.5 222.2,218.7 228.5,228 235.5,236.4 243,244.5 251,251.9 256.5,258.5 262.1,265.2 267.5,271 273.1,276.3 280.5,281.5 288.6,287.4 295,293.5 301.9,300.7 308,306 313,310.2 316.6,314.9 323.2,323.2 326.6,329.8 333.2,339.8 339.9,348.1 346.5,358.1 356.5,371.4 364.8,379.7 373.1,384.7 383.1,386.8 396.4,390.3 403.2,394.8 411.5,399.8 421.5,406.5 431.4,411.5 444.7,415.6 465,416.5 470,416.4 485,415.2 491.1,412.6 495.5,410.4 498.8,406.5 502.2,404.3 507.7,402.1 513.2,398.7 518.8,395.4 524.3,391.5 529.9,386.8 535.4,384.5 542,383.2 547,383 558.6,382.2 570.3,380.4 582,378.6 589,376.9 599.6,373.9 611.5,369 623.4,365.7 635.2,361.1 646.9,356.4 658.6,354 670.3,351 682,348.2 690,347.2 696.6,347.7 704.4,349.2 712.2,349.2 718.8,348.3 727.7,345.5 736.5,341.8 745.4,339 752.1,336.1 758.7,332.8 765.3,329.5 770,326.2 779.1,322.4 789.8,317 800.5,315.5 809.6,313.2 818.8,308.7 827.9,304.8 838.6,300.3 846.2,295.7 853.8,288.1 862.9,277.4 870.5,270.6 879.6,266 890,270.5 896.2,270.8 904.9,273.6 912.4,273.6 919.9,270.5 929.9,268 942.3,264.9 949.8,260.5 956.3,256.2" fill="none" stroke="#0070c0" stroke-width="4.0" stroke-linejoin="round" stroke-linecap="round"/>
<polyline points="131.3,167.4 141.3,169.1 152.9,169.9 164.6,171.2 177.9,174.1 191.2,177.4 201.1,180.7 211.1,184.9 221.1,189.9 231,194 240,200 248.3,205 259.9,209.1 269.9,213.3 286.5,218.3 299.8,224.1 309.8,229.9 321.4,236.5 328.1,243.2 339.7,252.3 345,259 355,270 364.9,279.9 376.6,289.9 389.9,299.9 398.2,306.5 406.5,315.7 416.5,323.2 426.4,329.8 433.1,335.6 441.4,343.1 449.7,347.3 460,350.6 471.5,356.4 479.8,359.7 490,364.7 495,368.2 504.9,372.3 514.9,376.5 524.9,379.8 534.8,382.3 545,384 550,385.1 560,385.6 570.3,386.8 582,389.2 593.8,390.9 605.5,391.5 617.6,390.9 629.3,389.2 641,387.4 649.2,385.1 660.9,383.9 665.6,382.7 670.3,379.2 682,374.5 690,371.5 696.6,368.8 704.4,367.1 712.2,366.6 722.1,366 729.9,363.8 736.5,362.1 743.2,359.9 752.1,357.1 760.9,353.3 770,348.8 779.1,346.7 789.8,342.2 800.5,339.9 812.7,334.6 823.3,330.7 834,327.7 843.1,323.1 852.3,318.6 861.4,312.5 870.5,309.4 880,307.9 890,309.8 904.9,308.5 914.9,306 927.4,299.8 942.3,294.8 956.3,288" fill="none" stroke="#17375e" stroke-width="4.0" stroke-linejoin="round" stroke-linecap="round"/>
</g>
<line x1="367.2" y1="100.3" x2="442.8" y2="100.3" stroke="#95b3d7" stroke-width="3.8" stroke-linecap="round"/>
<line x1="367.2" y1="153" x2="442.8" y2="153" stroke="#0070c0" stroke-width="3.8" stroke-linecap="round"/>
<line x1="367.2" y1="207" x2="442.8" y2="207" stroke="#17375e" stroke-width="3.8" stroke-linecap="round"/>
<text x="10.5" y="95.8" font-family='"Liberation Sans",sans-serif' font-weight="bold" font-size="34" fill="#000" textLength="80.9" lengthAdjust="spacingAndGlyphs">2,800</text>
<text x="10.5" y="210.0" font-family='"Liberation Sans",sans-serif' font-weight="bold" font-size="34" fill="#000" textLength="80.9" lengthAdjust="spacingAndGlyphs">2,640</text>
<text x="10.5" y="324.2" font-family='"Liberation Sans",sans-serif' font-weight="bold" font-size="34" fill="#000" textLength="80.9" lengthAdjust="spacingAndGlyphs">2,480</text>
<text x="10.5" y="438.4" font-family='"Liberation Sans",sans-serif' font-weight="bold" font-size="34" fill="#000" textLength="80.9" lengthAdjust="spacingAndGlyphs">2,320</text>
<text x="10.5" y="552.6" font-family='"Liberation Sans",sans-serif' font-weight="bold" font-size="34" fill="#000" textLength="80.9" lengthAdjust="spacingAndGlyphs">2,160</text>
<text x="10.5" y="666.8" font-family='"Liberation Sans",sans-serif' font-weight="bold" font-size="34" fill="#000" textLength="80.9" lengthAdjust="spacingAndGlyphs">2,000</text>
<text x="31.1" y="47.2" font-family='"Liberation Sans","Noto Sans CJK JP",sans-serif' font-weight="900" font-size="24" fill="#000">円</text>
<text fill="#000"><tspan x="100.6" y="706.6" font-family='"Liberation Sans",sans-serif' font-weight="bold" font-size="29">5</tspan><tspan x="117.7" y="706.6" font-family='"DejaVu Sans",sans-serif' font-weight="bold" font-size="32">/</tspan><tspan x="130.4" y="706.6" font-family='"Liberation Sans",sans-serif' font-weight="bold" font-size="29">1</tspan><tspan x="146.0" y="706.6" font-family='"Liberation Sans",sans-serif' font-weight="bold" font-size="29">5</tspan></text>
<text fill="#000"><tspan x="203.8" y="706.6" font-family='"Liberation Sans",sans-serif' font-weight="bold" font-size="29">6</tspan><tspan x="220.9" y="706.6" font-family='"DejaVu Sans",sans-serif' font-weight="bold" font-size="32">/</tspan><tspan x="234.1" y="706.6" font-family='"Liberation Sans",sans-serif' font-weight="bold" font-size="29">2</tspan><tspan x="249.2" y="706.6" font-family='"Liberation Sans",sans-serif' font-weight="bold" font-size="29">6</tspan></text>
<text fill="#000"><tspan x="314.2" y="706.6" font-family='"Liberation Sans",sans-serif' font-weight="bold" font-size="29">8</tspan><tspan x="331.4" y="706.6" font-family='"DejaVu Sans",sans-serif' font-weight="bold" font-size="32">/</tspan><tspan x="344.5" y="706.6" font-family='"Liberation Sans",sans-serif' font-weight="bold" font-size="29">8</tspan></text>
<text fill="#000"><tspan x="409.9" y="706.6" font-family='"Liberation Sans",sans-serif' font-weight="bold" font-size="29">9</tspan><tspan x="427.0" y="706.6" font-family='"DejaVu Sans",sans-serif' font-weight="bold" font-size="32">/</tspan><tspan x="440.2" y="706.6" font-family='"Liberation Sans",sans-serif' font-weight="bold" font-size="29">2</tspan><tspan x="455.3" y="706.6" font-family='"Liberation Sans",sans-serif' font-weight="bold" font-size="29">4</tspan></text>
<text fill="#000"><tspan x="514.0" y="706.6" font-family='"Liberation Sans",sans-serif' font-weight="bold" font-size="29">1</tspan><tspan x="529.1" y="706.6" font-family='"Liberation Sans",sans-serif' font-weight="bold" font-size="29">1</tspan><tspan x="546.8" y="706.6" font-family='"DejaVu Sans",sans-serif' font-weight="bold" font-size="32">/</tspan><tspan x="559.9" y="706.6" font-family='"Liberation Sans",sans-serif' font-weight="bold" font-size="29">7</tspan></text>
<text fill="#000"><tspan x="608.1" y="706.6" font-family='"Liberation Sans",sans-serif' font-weight="bold" font-size="29">1</tspan><tspan x="623.8" y="706.6" font-family='"Liberation Sans",sans-serif' font-weight="bold" font-size="29">2</tspan><tspan x="640.9" y="706.6" font-family='"DejaVu Sans",sans-serif' font-weight="bold" font-size="32">/</tspan><tspan x="653.5" y="706.6" font-family='"Liberation Sans",sans-serif' font-weight="bold" font-size="29">1</tspan><tspan x="669.2" y="706.6" font-family='"Liberation Sans",sans-serif' font-weight="bold" font-size="29">9</tspan></text>
<text fill="#000"><tspan x="725.9" y="706.6" font-family='"Liberation Sans",sans-serif' font-weight="bold" font-size="29">2</tspan><tspan x="743.0" y="706.6" font-family='"DejaVu Sans",sans-serif' font-weight="bold" font-size="32">/</tspan><tspan x="756.1" y="706.6" font-family='"Liberation Sans",sans-serif' font-weight="bold" font-size="29">6</tspan></text>
<text fill="#000"><tspan x="821.3" y="706.6" font-family='"Liberation Sans",sans-serif' font-weight="bold" font-size="29">3</tspan><tspan x="838.4" y="706.6" font-family='"DejaVu Sans",sans-serif' font-weight="bold" font-size="32">/</tspan><tspan x="851.6" y="706.6" font-family='"Liberation Sans",sans-serif' font-weight="bold" font-size="29">2</tspan><tspan x="866.7" y="706.6" font-family='"Liberation Sans",sans-serif' font-weight="bold" font-size="29">5</tspan></text>
<text fill="#000"><tspan x="932.5" y="706.6" font-family='"Liberation Sans",sans-serif' font-weight="bold" font-size="29">5</tspan><tspan x="949.6" y="706.6" font-family='"DejaVu Sans",sans-serif' font-weight="bold" font-size="32">/</tspan><tspan x="962.8" y="706.6" font-family='"Liberation Sans",sans-serif' font-weight="bold" font-size="29">9</tspan></text>
<text fill="#fff"><tspan x="255.5 303.8 351.6 398.5 423.9" y="53.9" font-family='"Liberation Sans","Noto Sans CJK JP",sans-serif' font-weight="bold" font-size="44">日本航空（</tspan><tspan x="469.0" y="57.0" font-family='"Liberation Sans",sans-serif' font-weight="bold" font-size="45.5" textLength="22.3" lengthAdjust="spacingAndGlyphs">9</tspan><tspan x="493.2" y="57.0" font-family='"Liberation Sans",sans-serif' font-weight="bold" font-size="45.5" textLength="23.8" lengthAdjust="spacingAndGlyphs">2</tspan><tspan x="516.4" y="57.0" font-family='"Liberation Sans",sans-serif' font-weight="bold" font-size="45.5" textLength="23.0" lengthAdjust="spacingAndGlyphs">0</tspan><tspan x="538.9" y="57.0" font-family='"Liberation Sans",sans-serif' font-weight="bold" font-size="45.5">1</tspan><tspan x="565.9" y="53.9" font-family='"Liberation Sans","Noto Sans CJK JP",sans-serif' font-weight="bold" font-size="44">）</tspan><tspan x="589.4" y="57.0" font-family='"Liberation Sans",sans-serif' font-weight="bold" font-size="45.5" textLength="21.3" lengthAdjust="spacingAndGlyphs">5</tspan><tspan x="612.8" y="57.0" font-family='"Liberation Sans",sans-serif' font-weight="bold" font-size="45.5" textLength="23.8" lengthAdjust="spacingAndGlyphs">2</tspan><tspan x="638.0 685.4 732.6" y="53.9" font-family='"Liberation Sans","Noto Sans CJK JP",sans-serif' font-weight="bold" font-size="44">週株価</tspan><tspan x="770.0" y="52.4" font-family='"Liberation Sans","Noto Sans CJK JP",sans-serif' font-weight="900" font-size="38">・</tspan><tspan x="803.0 848.2" y="53.9" font-family='"Liberation Sans","Noto Sans CJK JP",sans-serif' font-weight="bold" font-size="44">日足</tspan></text>
<text fill="#000"><tspan x="450.9 482.5 514.7 546.6" y="111.1" font-family='"Liberation Sans","Noto Sans CJK JP",sans-serif' font-weight="500" font-size="30">移動平均</tspan><tspan x="578.3 602.8" y="108.8" font-family='"Liberation Sans",sans-serif' font-weight="normal" font-size="28.5" stroke="#000" stroke-width="0.6">MA</tspan><tspan x="608.2" y="111.1" font-family='"Liberation Sans","Noto Sans CJK JP",sans-serif' font-weight="500" font-size="30">（</tspan><tspan x="638.4 653.8" y="108.8" font-family='"Liberation Sans",sans-serif' font-weight="normal" font-size="28.5" stroke="#000" stroke-width="0.6">20</tspan><tspan x="670.8 703.0" y="111.1" font-family='"Liberation Sans","Noto Sans CJK JP",sans-serif' font-weight="500" font-size="30">日）</tspan></text>
<text fill="#000"><tspan x="450.9 482.5 514.7 546.6" y="164.1" font-family='"Liberation Sans","Noto Sans CJK JP",sans-serif' font-weight="500" font-size="30">移動平均</tspan><tspan x="578.3 602.8" y="161.8" font-family='"Liberation Sans",sans-serif' font-weight="normal" font-size="28.5" stroke="#000" stroke-width="0.6">MA</tspan><tspan x="608.2" y="164.1" font-family='"Liberation Sans","Noto Sans CJK JP",sans-serif' font-weight="500" font-size="30">（</tspan><tspan x="638.4 653.8" y="161.8" font-family='"Liberation Sans",sans-serif' font-weight="normal" font-size="28.5" stroke="#000" stroke-width="0.6">50</tspan><tspan x="670.8 703.0" y="164.1" font-family='"Liberation Sans","Noto Sans CJK JP",sans-serif' font-weight="500" font-size="30">日）</tspan></text>
<text fill="#000"><tspan x="450.9 482.5 514.7 546.6" y="217.1" font-family='"Liberation Sans","Noto Sans CJK JP",sans-serif' font-weight="500" font-size="30">移動平均</tspan><tspan x="578.3 602.8" y="214.8" font-family='"Liberation Sans",sans-serif' font-weight="normal" font-size="28.5" stroke="#000" stroke-width="0.6">MA</tspan><tspan x="608.2" y="217.1" font-family='"Liberation Sans","Noto Sans CJK JP",sans-serif' font-weight="500" font-size="30">（</tspan><tspan x="638.7 654.5 670.3" y="214.8" font-family='"Liberation Sans",sans-serif' font-weight="normal" font-size="28.5" stroke="#000" stroke-width="0.6">100</tspan><tspan x="688.2 718.8" y="217.1" font-family='"Liberation Sans","Noto Sans CJK JP",sans-serif' font-weight="500" font-size="30">日）</tspan></text>
<text fill="#000"><tspan x="381.3 411.1 441.5 463.6" y="648.7" font-family='"Liberation Sans","Noto Sans CJK JP",sans-serif' font-weight="500" font-size="29">（出所：</tspan><tspan x="485.8" y="647.1" font-family='"Liberation Sans",sans-serif' font-weight="normal" font-size="24.7" stroke="#000" stroke-width="0.5" textLength="131.4" lengthAdjust="spacingAndGlyphs">Bloomberg</tspan><tspan x="615.7 640.3 663.3 688.8 714.0 735.7 755.8 777.6 800.9 830.0 859.0 888.8 918.1 947.7" y="648.7" font-family='"Liberation Sans","Noto Sans CJK JP",sans-serif' font-weight="500" font-size="29">をもとにフィリップ証券作成）</tspan></text>
</svg></body></html>
